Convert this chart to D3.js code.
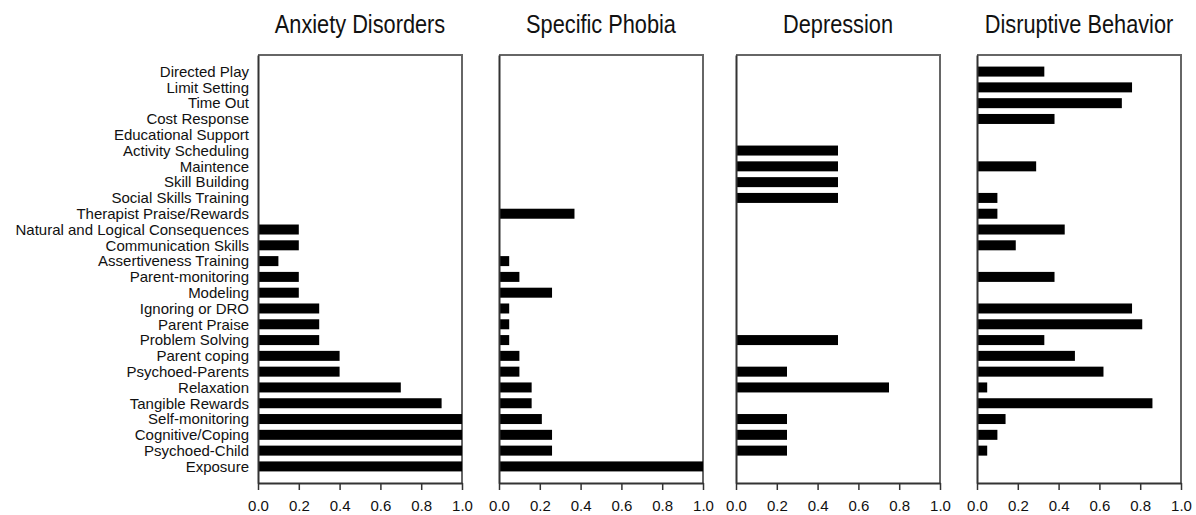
<!DOCTYPE html>
<html>
<head>
<meta charset="utf-8">
<script src="https://cdn.jsdelivr.net/npm/d3@7"></script>
<style>
  body { margin: 0; background: #fff; }
  text { font-family: "Liberation Sans", Arial, sans-serif; fill: #111; }
</style>
</head>
<body>
<div class="canvas"></div>
<script>
var categories = [
  "Directed Play", "Limit Setting", "Time Out", "Cost Response", "Educational Support",
  "Activity Scheduling", "Maintence", "Skill Building", "Social Skills Training",
  "Therapist Praise/Rewards", "Natural and Logical Consequences", "Communication Skills",
  "Assertiveness Training", "Parent-monitoring", "Modeling", "Ignoring or DRO",
  "Parent Praise", "Problem Solving", "Parent coping", "Psychoed-Parents", "Relaxation",
  "Tangible Rewards", "Self-monitoring", "Cognitive/Coping", "Psychoed-Child", "Exposure"
];

var panels = ["Anxiety Disorders", "Specific Phobia", "Depression", "Disruptive Behavior"];

// one value per category, same order as above
var anxiety = [0, 0, 0, 0, 0, 0, 0, 0, 0, 0, 0.2, 0.2, 0.1, 0.2, 0.2, 0.3, 0.3, 0.3, 0.4, 0.4, 0.7, 0.9, 1, 1, 1, 1];
var phobia = [0, 0, 0, 0, 0, 0, 0, 0, 0, 0.37, 0, 0, 0.05, 0.1, 0.26, 0.05, 0.05, 0.05, 0.1, 0.1, 0.16, 0.16, 0.21, 0.26, 0.26, 1];
var depression = [0, 0, 0, 0, 0, 0.5, 0.5, 0.5, 0.5, 0, 0, 0, 0, 0, 0, 0, 0, 0.5, 0, 0.25, 0.75, 0, 0.25, 0.25, 0.25, 0];
var disruptive = [0.33, 0.76, 0.71, 0.38, 0, 0, 0.29, 0, 0.1, 0.1, 0.43, 0.19, 0, 0.38, 0, 0.76, 0.81, 0.33, 0.48, 0.62, 0.05, 0.86, 0.14, 0.1, 0.05, 0];

var xTicks = [0, 0.2, 0.4, 0.6, 0.8, 1.0];

var series = [anxiety, phobia, depression, disruptive];
var lefts = [258, 499, 736, 977];
var pw = 204;
var plotTop = 55, plotBottom = 483;

var svg = d3.select(".canvas")
  .append("svg")
  .attr("width", 1196)
  .attr("height", 515);

var y = d3.scalePoint().domain(categories).range([plotTop, plotBottom]).padding(1.05);
var x = d3.scaleLinear().domain([0, 1]).range([0, pw]);
var barH = 10;

panels.forEach(function(name, i) {
  var g = svg.append("g").attr("transform", "translate(" + lefts[i] + ",0)");

  // top + right frame
  g.append("path")
    .attr("d", "M0," + plotTop + "H" + pw + "V" + plotBottom)
    .attr("fill", "none")
    .attr("stroke", "#666")
    .attr("stroke-width", 2);

  // titles in the picture are narrow, squeeze them horizontally
  g.append("text")
    .attr("transform", "translate(" + (pw / 2) + ",33) scale(0.87,1)")
    .attr("text-anchor", "middle")
    .style("font-size", "25px")
    .text(name);

  g.selectAll(".bar")
    .data(categories.map(function(c, j) { return { cat: c, v: series[i][j] }; })
      .filter(function(d) { return d.v > 0; }))
    .enter()
    .append("rect")
    .attr("class", "bar")
    .attr("x", x(0) + 1)
    .attr("y", function(d) { return y(d.cat) - barH / 2; })
    .attr("width", function(d) { return x(d.v) - x(0) - 1; })
    .attr("height", barH)
    .attr("fill", "#000");

  var ax = g.append("g")
    .attr("transform", "translate(0," + plotBottom + ")")
    .call(d3.axisBottom(x).tickValues(xTicks).tickFormat(d3.format(".1f")).tickSize(7).tickSizeOuter(0));
  ax.select(".domain").attr("stroke", "#333").attr("stroke-width", 2);
  ax.selectAll(".tick line").attr("stroke", "#333").attr("stroke-width", 1.5);
  ax.selectAll(".tick text")
    .attr("y", 17)
    .style("font-size", "15px")
    .style("font-family", "'Liberation Sans', Arial, sans-serif")
    .attr("fill", "#111");

  var ay = g.append("g")
    .call(d3.axisLeft(y).tickSize(0).tickPadding(9).tickFormat(i === 0 ? null : ""));
  ay.select(".domain").attr("stroke", "#333").attr("stroke-width", 2);
  ay.selectAll(".tick text")
    .style("font-size", "15px")
    .style("font-family", "'Liberation Sans', Arial, sans-serif")
    .attr("fill", "#111");
});
</script>
</body>
</html>
